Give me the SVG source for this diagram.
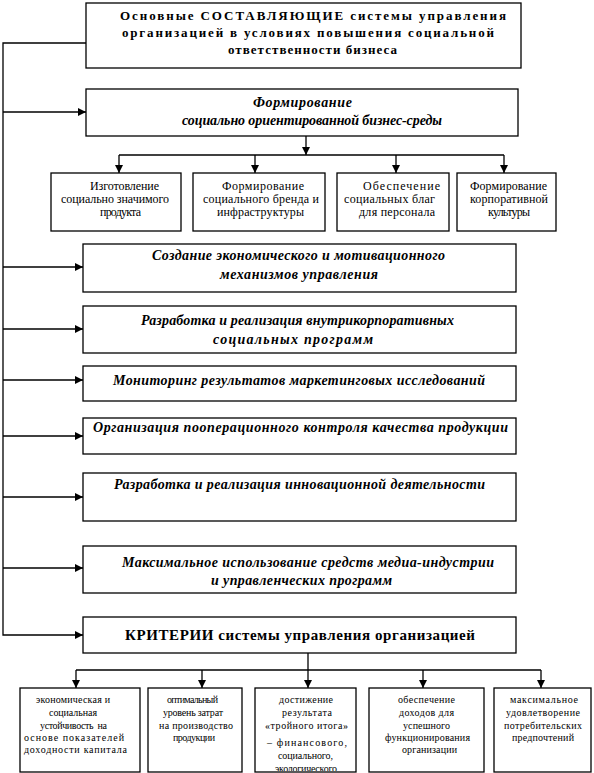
<svg xmlns="http://www.w3.org/2000/svg" width="594" height="773" viewBox="0 0 594 773">
<style>
.box{fill:#fff;stroke:#000;stroke-width:1.3}
.ln{fill:none;stroke:#000;stroke-width:1.3}
.arr{fill:none;stroke:#000;stroke-width:1.3;marker-end:url(#ah)}
text{font-family:"Liberation Serif",serif;fill:#000}
.hb{font-weight:bold;font-size:13px}
.cr{font-weight:bold;font-size:15px}
.bi{font-weight:bold;font-style:italic;font-size:14px}
.ch{font-size:12px}
.bt{font-size:10px}
</style>
<defs>
<marker id="ah" markerUnits="userSpaceOnUse" markerWidth="9" markerHeight="8" refX="8" refY="4" orient="auto">
<path d="M0,0 L8,4 L0,8 Z" fill="#000"/>
</marker>
<clipPath id="c3"><rect x="255" y="688" width="101" height="83"/></clipPath>
</defs>
<g id="connectors">
<polyline class="arr" points="86,43 3,43 3,635 83,635"/>
<line class="arr" x1="3" y1="112" x2="86" y2="112"/>
<line class="arr" x1="3" y1="267" x2="83" y2="267"/>
<line class="arr" x1="3" y1="329" x2="83" y2="329"/>
<line class="arr" x1="3" y1="380" x2="83" y2="380"/>
<line class="arr" x1="3" y1="436" x2="83" y2="436"/>
<line class="arr" x1="3" y1="497" x2="83" y2="497"/>
<line class="arr" x1="3" y1="568" x2="83" y2="568"/>
<line class="arr" x1="306" y1="136" x2="306" y2="155"/>
<line class="ln" x1="119" y1="155" x2="504" y2="155"/>
<line class="arr" x1="119" y1="155" x2="119" y2="173"/>
<line class="arr" x1="255" y1="155" x2="255" y2="173"/>
<line class="arr" x1="396" y1="155" x2="396" y2="173"/>
<line class="arr" x1="504" y1="155" x2="504" y2="173"/>
<line class="ln" x1="308" y1="653" x2="308" y2="670"/>
<line class="ln" x1="76" y1="670" x2="541" y2="670"/>
<line class="arr" x1="76" y1="670" x2="76" y2="688"/>
<line class="arr" x1="202" y1="670" x2="202" y2="688"/>
<line class="arr" x1="308" y1="670" x2="308" y2="688"/>
<line class="arr" x1="423" y1="670" x2="423" y2="688"/>
<line class="arr" x1="541" y1="670" x2="541" y2="688"/>
</g>
<g id="top">
<rect class="box" x="86" y="3" width="435" height="65"/>
<text class="hb" x="120" y="20" textLength="386" lengthAdjust="spacing">Основные СОСТАВЛЯЮЩИЕ системы управления</text>
<text class="hb" x="122" y="37" textLength="372" lengthAdjust="spacing">организацией в условиях повышения социальной</text>
<text class="hb" x="228" y="54" textLength="169" lengthAdjust="spacing">ответственности бизнеса</text>
</g>
<g id="n-business">
<rect class="box" x="86" y="89" width="432" height="47"/>
<text class="bi" x="253" y="107" textLength="99" lengthAdjust="spacing">Формирование</text>
<text class="bi" x="182" y="125" textLength="260" lengthAdjust="spacing">социально ориентированной бизнес-среды</text>
</g>
<g id="c1">
<rect class="box" x="51" y="173" width="130" height="58"/>
<text class="ch" x="90" y="190" textLength="69" lengthAdjust="spacing">Изготовление</text>
<text class="ch" x="61" y="203" textLength="108" lengthAdjust="spacing">социально значимого</text>
<text class="ch" x="100" y="216" textLength="41" lengthAdjust="spacing">продукта</text>
</g>
<g id="c2">
<rect class="box" x="193" y="173" width="132" height="58"/>
<text class="ch" x="222" y="190" textLength="82" lengthAdjust="spacing">Формирование</text>
<text class="ch" x="203" y="203" textLength="116" lengthAdjust="spacing">социального бренда и</text>
<text class="ch" x="217" y="216" textLength="87" lengthAdjust="spacing">инфраструктуры</text>
</g>
<g id="c3g">
<rect class="box" x="337" y="173" width="112" height="58"/>
<text class="ch" x="363" y="190" textLength="77" lengthAdjust="spacing">Обеспечение</text>
<text class="ch" x="344" y="203" textLength="91" lengthAdjust="spacing">социальных благ</text>
<text class="ch" x="359" y="216" textLength="76" lengthAdjust="spacing">для персонала</text>
</g>
<g id="c4">
<rect class="box" x="457" y="173" width="99" height="58"/>
<text class="ch" x="470" y="190" textLength="77" lengthAdjust="spacing">Формирование</text>
<text class="ch" x="470" y="203" textLength="78" lengthAdjust="spacing">корпоративной</text>
<text class="ch" x="488" y="216" textLength="42" lengthAdjust="spacing">культуры</text>
</g>
<g id="n3">
<rect class="box" x="83" y="244" width="433" height="48"/>
<text class="bi" x="152" y="260" textLength="293" lengthAdjust="spacing">Создание экономического и мотивационного</text>
<text class="bi" x="220" y="279" textLength="158" lengthAdjust="spacing">механизмов управления</text>
</g>
<g id="n4">
<rect class="box" x="83" y="306" width="433" height="47"/>
<text class="bi" x="141" y="325" textLength="313" lengthAdjust="spacing">Разработка и реализация внутрикорпоративных</text>
<text class="bi" x="213" y="344" textLength="160" lengthAdjust="spacing">социальных программ</text>
</g>
<g id="n5">
<rect class="box" x="83" y="366" width="433" height="35"/>
<text class="bi" x="113" y="385" textLength="372" lengthAdjust="spacing">Мониторинг результатов маркетинговых исследований</text>
</g>
<g id="n6">
<rect class="box" x="83" y="418" width="433" height="36"/>
<text class="bi" x="93" y="432" textLength="415" lengthAdjust="spacing">Организация пооперационного контроля качества продукции</text>
</g>
<g id="n7">
<rect class="box" x="83" y="473" width="433" height="48"/>
<text class="bi" x="114" y="489" textLength="371" lengthAdjust="spacing">Разработка и реализация инновационной деятельности</text>
</g>
<g id="n8">
<rect class="box" x="83" y="546" width="433" height="47"/>
<text class="bi" x="122" y="567" textLength="372" lengthAdjust="spacing">Максимальное использование средств медиа-индустрии</text>
<text class="bi" x="211" y="585" textLength="181" lengthAdjust="spacing">и управленческих программ</text>
</g>
<g id="criteria">
<rect class="box" x="83" y="617" width="433" height="36"/>
<text class="cr" x="125" y="640" textLength="350" lengthAdjust="spacing">КРИТЕРИИ системы управления организацией</text>
</g>
<g id="b1">
<rect class="box" x="20" y="688" width="120" height="84"/>
<text class="bt" x="36" y="703" textLength="74" lengthAdjust="spacing">экономическая и</text>
<text class="bt" x="49" y="716" textLength="48" lengthAdjust="spacing">социальная</text>
<text class="bt" x="40" y="729" textLength="67" lengthAdjust="spacing" xml:space="preserve">устойчивость  на</text>
<text class="bt" x="24" y="741" textLength="100" lengthAdjust="spacing">основе показателей</text>
<text class="bt" x="24" y="753" textLength="103" lengthAdjust="spacing">доходности капитала</text>
</g>
<g id="b2">
<rect class="box" x="148" y="688" width="94" height="84"/>
<text class="bt" x="167" y="703" textLength="51" lengthAdjust="spacing">оптимальный</text>
<text class="bt" x="163" y="716" textLength="60" lengthAdjust="spacing">уровень затрат</text>
<text class="bt" x="159" y="729" textLength="74" lengthAdjust="spacing">на производство</text>
<text class="bt" x="173" y="741" textLength="42" lengthAdjust="spacing">продукции</text>
</g>
<g id="b3">
<rect class="box" x="255" y="688" width="101" height="84"/>
<g clip-path="url(#c3)">
<text class="bt" x="279" y="703" textLength="54" lengthAdjust="spacing">достижение</text>
<text class="bt" x="282" y="716" textLength="50" lengthAdjust="spacing">результата</text>
<text class="bt" x="265" y="729" textLength="83" lengthAdjust="spacing">«тройного итога»</text>
<text class="bt" x="267" y="746" textLength="80" lengthAdjust="spacing">– финансового,</text>
<text class="bt" x="278" y="759" textLength="55" lengthAdjust="spacing">социального,</text>
<text class="bt" x="275" y="772" textLength="62" lengthAdjust="spacing">экологического</text>
</g>
</g>
<g id="b4">
<rect class="box" x="369" y="688" width="115" height="84"/>
<text class="bt" x="398" y="703" textLength="57" lengthAdjust="spacing">обеспечение</text>
<text class="bt" x="399" y="716" textLength="55" lengthAdjust="spacing">доходов для</text>
<text class="bt" x="403" y="729" textLength="47" lengthAdjust="spacing">успешного</text>
<text class="bt" x="385" y="741" textLength="85" lengthAdjust="spacing">функционирования</text>
<text class="bt" x="402" y="753" textLength="55" lengthAdjust="spacing">организации</text>
</g>
<g id="b5">
<rect class="box" x="494" y="688" width="97" height="84"/>
<text class="bt" x="510" y="703" textLength="68" lengthAdjust="spacing">максимальное</text>
<text class="bt" x="506" y="716" textLength="74" lengthAdjust="spacing">удовлетворение</text>
<text class="bt" x="504" y="729" textLength="78" lengthAdjust="spacing">потребительских</text>
<text class="bt" x="512" y="741" textLength="62" lengthAdjust="spacing">предпочтений</text>
</g>
</svg>
